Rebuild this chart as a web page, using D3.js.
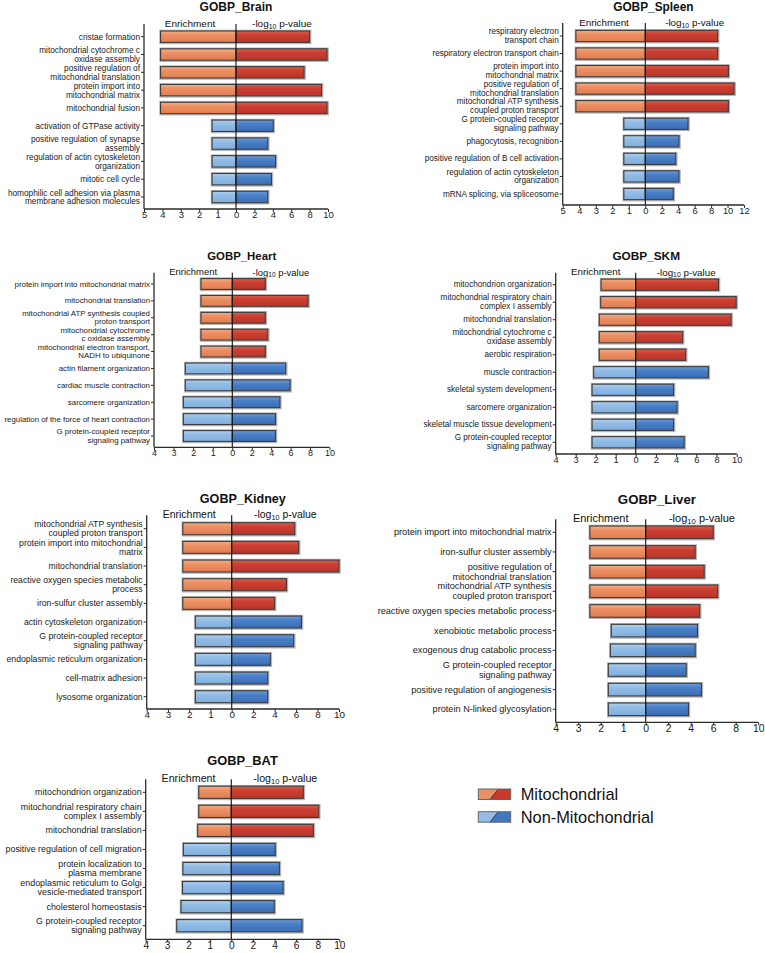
<!DOCTYPE html>
<html>
<head>
<meta charset="utf-8">
<script src="https://cdn.jsdelivr.net/npm/d3@7"></script>
<style>
  html, body { margin: 0; padding: 0; background: #fff; }
  svg { display: block; font-family: "Liberation Sans", Arial, Helvetica, sans-serif; }
</style>
</head>
<body>
<svg id="chart" width="765" height="953"></svg>
<script>
// ---------------- DATA ----------------
const brainTerms = ["cristae formation", "mitochondrial cytochrome c\noxidase assembly", "positive regulation of\nmitochondrial translation", "protein import into\nmitochondrial matrix", "mitochondrial fusion", "activation of GTPase activity", "positive regulation of synapse\nassembly", "regulation of actin cytoskeleton\norganization", "mitotic cell cycle", "homophilic cell adhesion via plasma\nmembrane adhesion molecules"];
const brainEnrichment = [4.1, 4.1, 4.1, 4.1, 4.1, 1.3, 1.3, 1.3, 1.3, 1.3];
const brainLogP = [8.0, 9.9, 7.4, 9.3, 9.9, 4.05, 3.45, 4.3, 3.85, 3.45];
const brainMitoCount = 5;

const spleenTerms = ["respiratory electron\ntransport chain", "respiratory electron transport chain", "protein import into\nmitochondrial matrix", "positive regulation of\nmitochondrial translation", "mitochondrial ATP synthesis\ncoupled proton transport", "G protein-coupled receptor\nsignaling pathway", "phagocytosis, recognition", "positive regulation of B cell activation", "regulation of actin cytoskeleton\norganization", "mRNA splicing, via spliceosome"];
const spleenEnrichment = [4.2, 4.2, 4.2, 4.2, 4.2, 1.3, 1.3, 1.3, 1.3, 1.3];
const spleenLogP = [8.8, 8.8, 10.1, 10.8, 10.1, 5.2, 4.1, 3.7, 4.1, 3.4];
const spleenMitoCount = 5;

const heartTerms = ["protein import into mitochondrial matrix", "mitochondrial translation", "mitochondrial ATP synthesis coupled\nproton transport", "mitochondrial cytochrome\nc oxidase assembly", "mitochondrial electron transport,\nNADH to ubiquinone", "actin filament organization", "cardiac muscle contraction", "sarcomere organization", "regulation of the force of heart contraction", "G protein-coupled receptor\nsignaling pathway"];
const heartEnrichment = [1.6, 1.6, 1.6, 1.6, 1.6, 2.4, 2.4, 2.5, 2.5, 2.5];
const heartLogP = [3.4, 7.8, 3.4, 3.65, 3.4, 5.5, 5.95, 4.9, 4.45, 4.45];
const heartMitoCount = 5;

const skmTerms = ["mitochondrion organization", "mitochondrial respiratory chain\ncomplex I assembly", "mitochondrial translation", "mitochondrial cytochrome c\noxidase assembly", "aerobic respiration", "muscle contraction", "skeletal system development", "sarcomere organization", "skeletal muscle tissue development", "G protein-coupled receptor\nsignaling pathway"];
const skmEnrichment = [1.73, 1.75, 1.82, 1.82, 1.82, 2.1, 2.18, 2.18, 2.18, 2.18];
const skmLogP = [8.2, 9.95, 9.45, 4.65, 4.95, 7.2, 3.75, 4.1, 3.75, 4.8];
const skmMitoCount = 5;

const kidneyTerms = ["mitochondrial ATP synthesis\ncoupled proton transport", "protein import into mitochondrial\nmatrix", "mitochondrial translation", "reactive oxygen species metabolic\nprocess", "iron-sulfur cluster assembly", "actin cytoskeleton organization", "G protein-coupled receptor\nsignaling pathway", "endoplasmic reticulum organization", "cell-matrix adhesion", "lysosome organization"];
const kidneyEnrichment = [2.3, 2.3, 2.3, 2.3, 2.3, 1.71, 1.71, 1.71, 1.71, 1.71];
const kidneyLogP = [5.87, 6.24, 10.0, 5.1, 4.0, 6.5, 5.78, 3.6, 3.35, 3.35];
const kidneyMitoCount = 5;

const liverTerms = ["protein import into mitochondrial matrix", "iron-sulfur cluster assembly", "positive regulation of\nmitochondrial translation", "mitochondrial ATP synthesis\ncoupled proton transport", "reactive oxygen species metabolic process", "xenobiotic metabolic process", "exogenous drug catabolic process", "G protein-coupled receptor\nsignaling pathway", "positive regulation of angiogenesis", "protein N-linked glycosylation"];
const liverEnrichment = [2.48, 2.48, 2.48, 2.48, 2.48, 1.53, 1.57, 1.66, 1.66, 1.66];
const liverLogP = [6.0, 4.4, 5.2, 6.4, 4.8, 4.6, 4.4, 3.6, 4.95, 3.8];
const liverMitoCount = 5;

const batTerms = ["mitochondrion organization", "mitochondrial respiratory chain\ncomplex I assembly", "mitochondrial translation", "positive regulation of cell migration", "protein localization to\nplasma membrane", "endoplasmic reticulum to Golgi\nvesicle-mediated transport", "cholesterol homeostasis", "G protein-coupled receptor\nsignaling pathway"];
const batEnrichment = [1.52, 1.52, 1.57, 2.24, 2.26, 2.28, 2.35, 2.55];
const batLogP = [6.67, 8.1, 7.6, 4.07, 4.45, 4.8, 3.98, 6.55];
const batMitoCount = 3;

const panelTitles = ["GOBP_Brain", "GOBP_Spleen", "GOBP_Heart", "GOBP_SKM", "GOBP_Kidney", "GOBP_Liver", "GOBP_BAT"];
const leftMaxes = [5, 5, 4, 4, 4, 4, 4];
const rightMaxes = [10, 12, 10, 10, 10, 10, 10];
const legendLabels = ["Mitochondrial", "Non-Mitochondrial"];

// ---------------- LAYOUT ----------------
const layout = [
  {axisX: 144,   zeroX: 236,   endX: 328,   top: 24,    bottom: 209,   first: 36.7,  last: 197,   titleY: 6.5},
  {axisX: 562.7, zeroX: 645.3, endX: 744,   top: 23,    bottom: 205,   first: 36,    last: 194,   titleY: 6.7},
  {axisX: 154,   zeroX: 232.3, endX: 329.4, top: 272.7, bottom: 447.3, first: 284,   last: 436,   titleY: 255.5},
  {axisX: 555.7, zeroX: 635.7, endX: 736.7, top: 272.7, bottom: 454,   first: 284.7, last: 442.3, titleY: 256},
  {axisX: 146.7, zeroX: 231.7, endX: 339,   top: 515.3, bottom: 709,   first: 528.7, last: 696.7, titleY: 498.7},
  {axisX: 555.7, zeroX: 645.7, endX: 758.2, top: 519.3, bottom: 722.3, first: 532.3, last: 709.3, titleY: 499.3},
  {axisX: 145.7, zeroX: 231.3, endX: 339.3, top: 779.3, bottom: 939.3, first: 792.3, last: 925.7, titleY: 760}
];

const panelData = [
  [brainTerms, brainEnrichment, brainLogP, brainMitoCount],
  [spleenTerms, spleenEnrichment, spleenLogP, spleenMitoCount],
  [heartTerms, heartEnrichment, heartLogP, heartMitoCount],
  [skmTerms, skmEnrichment, skmLogP, skmMitoCount],
  [kidneyTerms, kidneyEnrichment, kidneyLogP, kidneyMitoCount],
  [liverTerms, liverEnrichment, liverLogP, liverMitoCount],
  [batTerms, batEnrichment, batLogP, batMitoCount]
];

const svg = d3.select("#chart");
const defs = svg.append("defs");

function addGrad(id, stops) {
  const g = defs.append("linearGradient").attr("id", id)
    .attr("x1", 0).attr("y1", 0).attr("x2", 0).attr("y2", 1);
  stops.forEach(s => g.append("stop").attr("offset", s[0]).attr("stop-color", s[1]));
}
addGrad("gOrange", [["0%", "#f4ad86"], ["35%", "#ec9064"], ["100%", "#e07d50"]]);
addGrad("gRed", [["0%", "#dc5c4c"], ["35%", "#cc3e31"], ["100%", "#b9352a"]]);
addGrad("gLBlue", [["0%", "#aed0ef"], ["35%", "#93bde6"], ["100%", "#80aedd"]]);
addGrad("gDBlue", [["0%", "#6a9bd8"], ["35%", "#4a80c8"], ["100%", "#3a6cb6"]]);

const fills = {
  mito: ["url(#gOrange)", "url(#gRed)"],
  non: ["url(#gLBlue)", "url(#gDBlue)"]
};
const axisColor = "#2b2b2b";
const barStroke = "#3c3c3c";

panelData.forEach((pd, pi) => {
  const [terms, enr, logp, mitoCount] = pd;
  const L = layout[pi];
  const g = svg.append("g");
  const rows = terms.map((t, i) => ({term: t, enr: enr[i], logp: logp[i], mito: i < mitoCount, key: i}));

  const step = (L.last - L.first) / (rows.length - 1);
  const labelFont = step * 0.466;
  const lineH = step * 0.495;
  const headFont = step * 0.56;
  const titleFont = step * 0.675;
  const tickFont = step * 0.53;

  const y = d3.scaleBand().domain(rows.map(r => r.key))
    .range([L.first - step / 2, L.last + step / 2])
    .paddingInner(0.36).paddingOuter(0.18);
  const xL = d3.scaleLinear().domain([0, leftMaxes[pi]]).range([L.zeroX, L.axisX]);
  const xR = d3.scaleLinear().domain([0, rightMaxes[pi]]).range([L.zeroX, L.endX]);

  // Title
  g.append("text").attr("x", (L.axisX + L.endX) / 2).attr("y", L.titleY)
    .attr("text-anchor", "middle").attr("dominant-baseline", "central")
    .attr("font-size", titleFont).attr("font-weight", "bold").attr("fill", "#111")
    .text(panelTitles[pi]);

  // Headers
  g.append("text").attr("x", (L.axisX + L.zeroX) / 2).attr("y", L.top - 1)
    .attr("text-anchor", "middle").attr("dominant-baseline", "central")
    .attr("font-size", headFont).attr("fill", "#111").text("Enrichment");
  const hdr = g.append("text").attr("x", (L.zeroX + L.endX) / 2).attr("y", L.top - 1)
    .attr("text-anchor", "middle").attr("dominant-baseline", "central")
    .attr("font-size", headFont).attr("fill", "#111");
  hdr.append("tspan").text("-log");
  hdr.append("tspan").attr("font-size", headFont * 0.7).attr("dy", 2.5).text("10");
  hdr.append("tspan").attr("dy", -2.5).text(" p-value");

  // Bars
  const bars = g.append("g");
  rows.forEach(r => {
    const by = y(r.key), bh = y.bandwidth();
    bars.append("rect").attr("x", xL(r.enr) - 0.5).attr("y", by - 0.5)
      .attr("width", xR(r.logp) - xL(r.enr) + 1.5).attr("height", bh + 1.5)
      .attr("fill", "none").attr("stroke", "#b5b5b5").attr("stroke-width", 1.6);
    const f = r.mito ? fills.mito : fills.non;
    bars.append("rect").attr("x", xL(r.enr)).attr("y", by)
      .attr("width", L.zeroX - xL(r.enr)).attr("height", bh)
      .attr("fill", f[0]).attr("stroke", barStroke).attr("stroke-width", 1.1);
    bars.append("rect").attr("x", L.zeroX).attr("y", by)
      .attr("width", xR(r.logp) - L.zeroX).attr("height", bh)
      .attr("fill", f[1]).attr("stroke", barStroke).attr("stroke-width", 1.1);
  });

  // zero line
  g.append("line").attr("x1", L.zeroX).attr("x2", L.zeroX)
    .attr("y1", L.top).attr("y2", L.bottom)
    .attr("stroke", "#111").attr("stroke-width", 1.1);

  // Left axis with category labels
  const yAxis = d3.axisLeft(y).tickSize(3).tickFormat("");
  const ya = g.append("g").attr("transform", `translate(${L.axisX},0)`).call(yAxis);
  ya.select(".domain").remove();
  ya.selectAll(".tick line").attr("stroke", axisColor).attr("stroke-width", 1);
  g.append("line").attr("x1", L.axisX).attr("x2", L.axisX)
    .attr("y1", L.top).attr("y2", L.bottom)
    .attr("stroke", axisColor).attr("stroke-width", 1.3);

  rows.forEach(r => {
    const lines = r.term.split("\n");
    const cy = y(r.key) + y.bandwidth() / 2;
    const t = g.append("text").attr("text-anchor", "end")
      .attr("font-size", labelFont).attr("fill", "#1a1a1a");
    lines.forEach((ln, li) => {
      t.append("tspan").attr("x", L.axisX - 4)
        .attr("y", cy + (li - (lines.length - 1) / 2) * lineH)
        .attr("dominant-baseline", "central").text(ln);
    });
  });

  // Bottom axes
  const leftTicks = d3.range(1, leftMaxes[pi] + 1);
  const rightTicks = d3.range(0, rightMaxes[pi] + 1, 2);
  const axL = g.append("g").attr("transform", `translate(0,${L.bottom})`)
    .call(d3.axisBottom(xL).tickValues(leftTicks).tickSize(3).tickFormat(d3.format("d")));
  const axR = g.append("g").attr("transform", `translate(0,${L.bottom})`)
    .call(d3.axisBottom(xR).tickValues(rightTicks).tickSize(3).tickFormat(d3.format("d")));
  [axL, axR].forEach(a => {
    a.select(".domain").remove();
    a.selectAll(".tick line").attr("stroke", axisColor).attr("stroke-width", 1);
    a.selectAll(".tick text").attr("font-size", tickFont).attr("fill", "#1a1a1a")
      .attr("font-family", "'Liberation Sans', Arial, sans-serif").attr("dy", "0.55em").attr("y", 4);
  });
  g.append("line").attr("x1", L.axisX).attr("x2", L.endX)
    .attr("y1", L.bottom).attr("y2", L.bottom)
    .attr("stroke", axisColor).attr("stroke-width", 1.3);
});

// ---------------- LEGEND ----------------
const legendFills = [["#ec9064", "#c9392d"], ["#93bde6", "#4178c4"]];
const lg = svg.append("g");
legendLabels.forEach((lab, i) => {
  const x0 = 478.3, w = 32.4, h = 10.5;
  const y0 = 789 + i * 22.7;
  const xb = x0 + 11.7, xt = x0 + 20;
  lg.append("polygon")
    .attr("points", `${x0},${y0} ${xt},${y0} ${xb},${y0 + h} ${x0},${y0 + h}`)
    .attr("fill", legendFills[i][0]);
  lg.append("polygon")
    .attr("points", `${xt},${y0} ${x0 + w},${y0} ${x0 + w},${y0 + h} ${xb},${y0 + h}`)
    .attr("fill", legendFills[i][1]);
  lg.append("line").attr("x1", xb).attr("y1", y0 + h).attr("x2", xt).attr("y2", y0)
    .attr("stroke", "#333").attr("stroke-width", 1);
  lg.append("rect").attr("x", x0).attr("y", y0).attr("width", w).attr("height", h)
    .attr("fill", "none").attr("stroke", "#666").attr("stroke-width", 1);
  lg.append("text").attr("x", 520.7).attr("y", y0 + h / 2)
    .attr("dominant-baseline", "central").attr("font-size", 16.4).attr("fill", "#111")
    .text(lab);
});
</script>
</body>
</html>
